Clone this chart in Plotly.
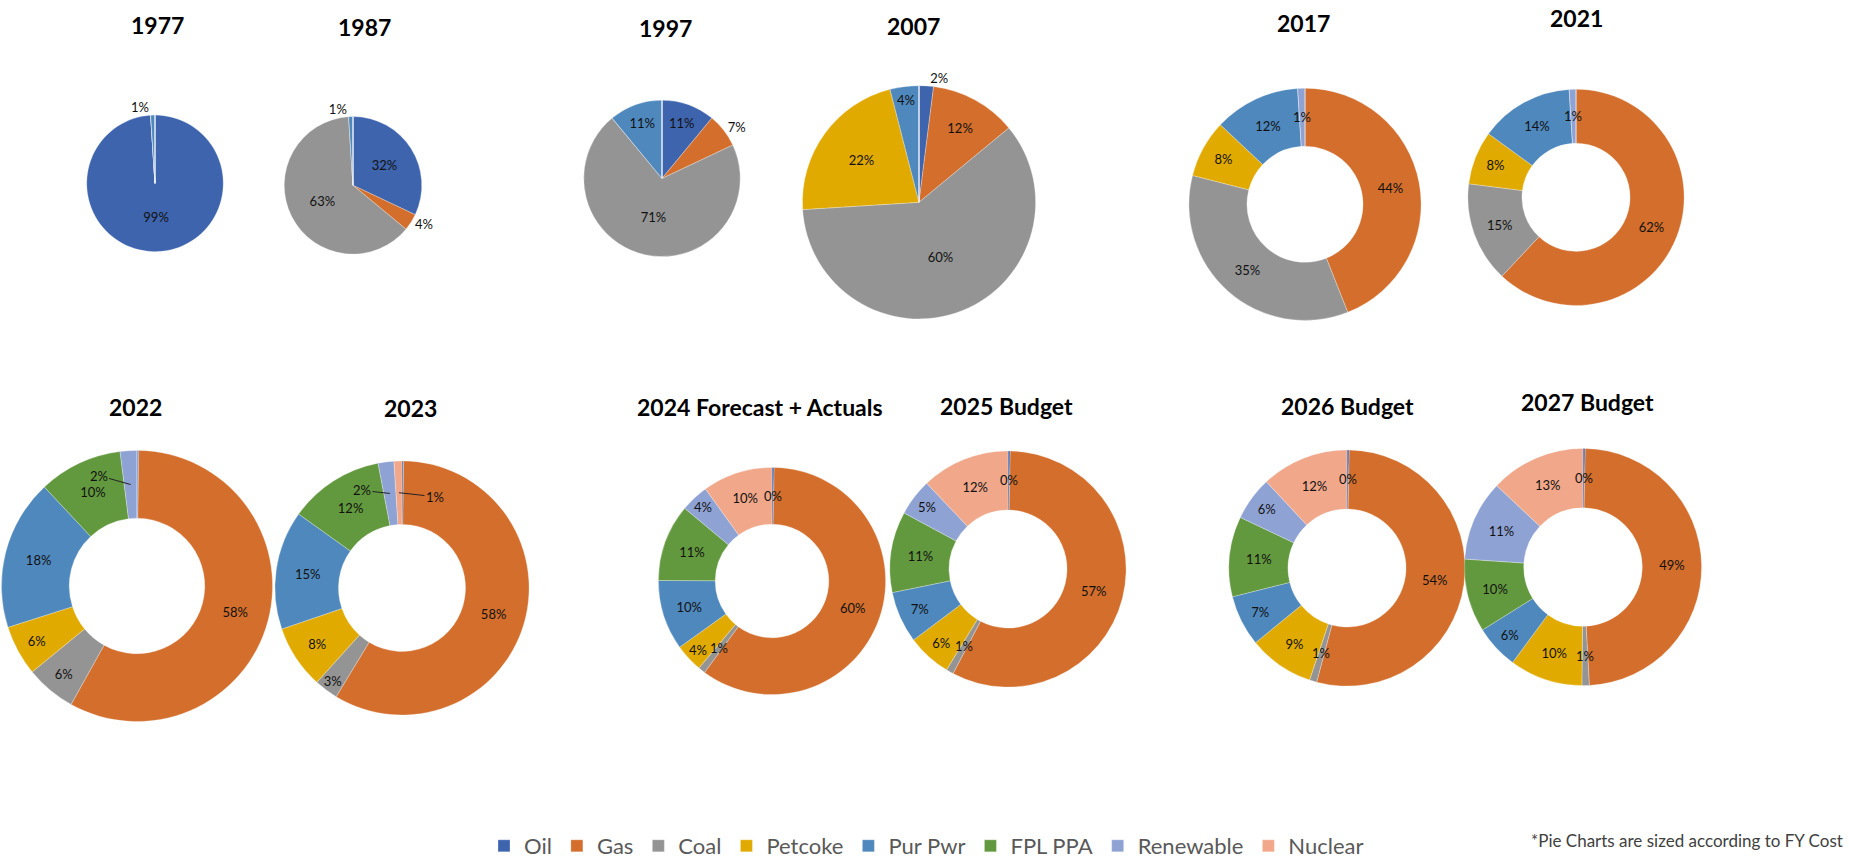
import math
import plotly.graph_objects as go

# ---- data -------------------------------------------------------------
fuels = ["Oil", "Gas", "Coal", "Petcoke", "Pur Pwr", "FPL PPA", "Renewable", "Nuclear"]

years = ["1977", "1987", "1997", "2007", "2017", "2021",
         "2022", "2023", "2024 Forecast + Actuals",
         "2025 Budget", "2026 Budget", "2027 Budget"]

# fuel mix shares (%), in the order of `fuels`
mix_1977 = [99, 0, 0, 0, 1, 0, 0, 0]
mix_1987 = [32, 4, 63, 0, 1, 0, 0, 0]
mix_1997 = [11, 7, 71, 0, 11, 0, 0, 0]
mix_2007 = [2, 12, 60, 22, 4, 0, 0, 0]
mix_2017 = [0, 44, 35, 8, 12, 0, 1, 0]
mix_2021 = [0, 62, 15, 8, 14, 0, 1, 0]
mix_2022 = [0.2, 58, 6, 6, 18, 10, 2, 0]
mix_2023 = [0.2, 58, 3, 8, 15, 12, 2, 1]
mix_2024 = [0.3, 60, 1, 4, 10, 11, 4, 10]
mix_2025 = [0.3, 57, 1, 6, 7, 11, 5, 12]
mix_2026 = [0.3, 54, 1, 9, 7, 11, 6, 12]
mix_2027 = [0.3, 49, 1, 10, 6, 10, 11, 13]

mixes = [mix_1977, mix_1987, mix_1997, mix_2007, mix_2017, mix_2021,
         mix_2022, mix_2023, mix_2024, mix_2025, mix_2026, mix_2027]

# slices whose value label is not printed
unlabelled = {"2022": ["Oil"], "2023": ["Oil"]}

# ---- styling / layout -------------------------------------------------
W, H = 1849, 867
FONT = "Lato, 'Open Sans', Arial, sans-serif"
LABEL_FONT = dict(family=FONT, size=13, color="#111111")

colors = ["#3E64AE", "#D36E2C", "#949494", "#E1AA00",
          "#4F88BD", "#63993E", "#8FA2D4", "#F0A78A"]

# pie centre (px), diameter (px), hole fraction
pie_geom = [
    (155, 184, 137, 0), (353, 186, 138, 0), (662, 179, 157, 0),
    (919, 203, 234, 0), (1305, 205, 233, 0.5), (1576, 198, 217, 0.5),
    (137, 588, 272, 0.5), (402, 590, 255, 0.5), (772, 583, 228, 0.5),
    (1008, 571, 237, 0.5), (1347, 570, 237, 0.5), (1583, 569, 238, 0.5),
]
# title centres (px)
title_pos = [(157, 25), (364, 27), (665, 28), (913, 26), (1303, 23), (1576, 18),
             (135, 408), (410, 409), (760, 408), (1006, 407), (1347, 407), (1587, 403)]

# labels drawn outside the (solid) pies
outside = {"1977": ["Pur Pwr"], "1987": ["Gas", "Pur Pwr"],
           "1997": ["Gas"], "2007": ["Oil"]}

# thin donut slices get their label placed on the ring's mid-line
THIN = 3
# thin-slice labels pulled aside with a leader line (px offsets)
leader = {("2022", "Renewable"): (-32, -9),
          ("2023", "Renewable"): (-28, -3),
          ("2023", "Nuclear"): (36, 4)}


def clamp(v):
    return max(0.0, min(1.0, v))


fig = go.Figure()
annotations = []
for i, (year, vals) in enumerate(zip(years, mixes)):
    cx, cy, d, hole = pie_geom[i]
    key = year.split()[0]
    hidden = unlabelled.get(key, [])
    total = sum(vals)
    texts, pos = [], []
    cum = 0.0
    for f, v in zip(fuels, vals):
        lab = f"{v:.0f}%"
        mid = (cum + v / 2) / total
        cum += v
        if v == 0 or f in hidden:
            texts.append("")
        elif hole and v < THIN:
            texts.append("")
            # mid-angle of the slice, clockwise from 12 o'clock
            ang = 2 * math.pi * mid
            r = (1 + hole) / 2 * d / 2
            px = cx + r * math.sin(ang)
            py = cy - r * math.cos(ang)
            off = leader.get((key, f))
            ann = dict(text=lab, x=px / W, y=1 - py / H, xref="paper", yref="paper",
                       font=LABEL_FONT)
            if off:
                ann.update(showarrow=True, arrowhead=0, arrowwidth=1,
                           arrowcolor="#222222", ax=off[0], ay=off[1], standoff=0)
            else:
                ann.update(showarrow=False, xanchor="center", yanchor="middle")
            annotations.append(ann)
        else:
            texts.append(lab)
        pos.append("outside" if f in outside.get(key, []) else "inside")
    fig.add_trace(go.Pie(
        labels=fuels, values=vals, text=texts, texttemplate="%{text}",
        textposition=pos, insidetextorientation="horizontal",
        sort=False, direction="clockwise", rotation=0, hole=hole,
        marker=dict(colors=colors, line=dict(color="rgba(255,255,255,0.55)", width=0.5)),
        textfont=LABEL_FONT,
        hoverinfo="label+percent", showlegend=(i == 0),
        domain=dict(x=[clamp((cx - d / 2) / W), clamp((cx + d / 2) / W)],
                    y=[clamp(1 - (cy + d / 2) / H), clamp(1 - (cy - d / 2) / H)]),
    ))

for (tx, ty), year in zip(title_pos, years):
    annotations.append(dict(
        text=f"<b>{year}</b>", x=tx / W, y=1 - ty / H, xref="paper", yref="paper",
        xanchor="center", yanchor="middle", showarrow=False,
        font=dict(family=FONT, size=23, color="#000000")))
annotations.append(dict(
    text="*Pie Charts are sized according to FY Cost", x=1844 / W, y=1 - 843 / H,
    xref="paper", yref="paper", xanchor="right", yanchor="middle", showarrow=False,
    borderpad=0, font=dict(family=FONT, size=17, color="#404040")))

fig.update_layout(
    width=W, height=H,
    margin=dict(l=0, r=0, t=0, b=0),
    paper_bgcolor="white", plot_bgcolor="white",
    uniformtext=dict(minsize=13, mode="show"),
    legend=dict(orientation="h", x=484 / W, xanchor="left", y=1 - 849 / H, yanchor="middle",
                font=dict(family=FONT, size=22, color="#595959"),
                traceorder="normal", bgcolor="rgba(0,0,0,0)"),
    annotations=annotations,
)

fig.write_html("out.html")
